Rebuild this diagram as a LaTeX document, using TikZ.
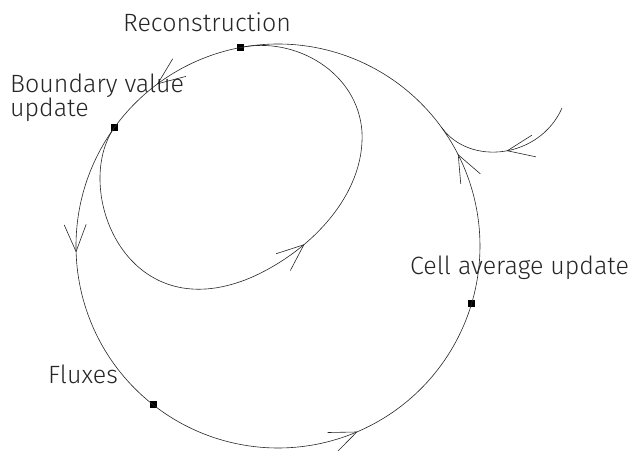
\documentclass[tikz,border=0pt]{standalone}
\usepackage{fontspec}
\setmainfont{Fira Sans}[UprightFont={* Light}]
\usetikzlibrary{arrows.meta, decorations.markings, calc}
\tikzset{
  flow/.style={draw=black!85, line width=0.6pt},
  arrowat/.style={postaction={decorate}, decoration={markings, mark=at position #1 with {\arrow{>}}}},
  >={Straight Barb[length=27pt,width=22pt]},
  dot/.style={fill=black, minimum size=7pt, inner sep=0pt, draw=none},
  lbl/.style={font=\fontsize{25}{23.3}\selectfont, inner sep=0pt, anchor=base west, text=black!85}
}
\begin{document}
\begin{tikzpicture}[x=1pt,y=1pt]
\useasboundingbox (0,0) rectangle (636,450);
\coordinate (O) at (278,204);
\node[dot] (rec) at ($(O)+(100.8:202)$) {};
\node[dot] (bnd) at ($(O)+(144.1:202)$) {};
\node[dot] (flux) at ($(O)+(231.8:202)$) {};
\node[dot] (cell) at ($(O)+(343.4:202)$) {};
\coordinate (join) at ($(O)+(36:202)$);
\coordinate (tailstart) at (562,342);
% outer cycle
\draw[flow, arrowat=0.6] (rec.center) arc[start angle=100.8, end angle=144.1, radius=202pt];
\draw[flow, arrowat=0.43] (bnd.center) arc[start angle=144.1, end angle=231.8, radius=202pt];
\draw[flow, arrowat=0.55] (flux.center) arc[start angle=231.8, end angle=343.4, radius=202pt];
\draw[flow, arrowat=0.83] (cell.center) arc[start angle=343.4, end angle=396, radius=202pt];
\draw[flow] (join) arc[start angle=36, end angle=100.8, radius=202pt];
% inner loop
\draw[flow, arrowat=0.53] (bnd.center) .. controls (72,262) and (125,120) .. (250,172)
  .. controls (310,198) and (365,255) .. (362,318)
  .. controls (358,378) and (295,414) .. (rec.center);
% incoming tail
\draw[flow, arrowat=0.5] (tailstart) .. controls (540,292) and (470,283) .. (join);
% labels
\node[lbl] (lrec) at (123,418.3) {Reconstruction};
\node[lbl, align=left] (lbnd) at (10,333.3) {Boundary value\\update};
\node[lbl] (lcell) at (410,176) {Cell average update};
\node[lbl] (lflux) at (48,67) {Fluxes};
\end{tikzpicture}
\end{document}
